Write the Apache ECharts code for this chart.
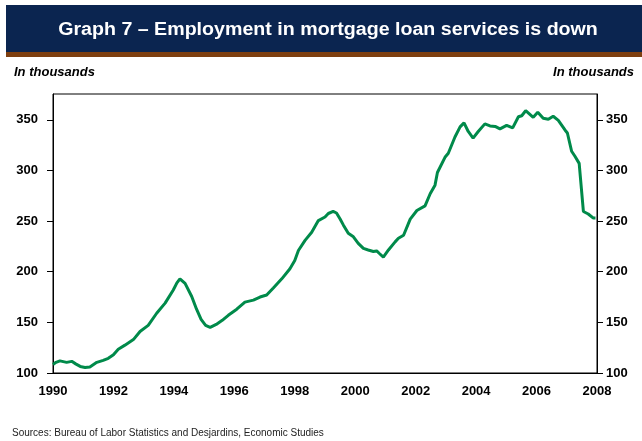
<!DOCTYPE html>
<html>
<head>
<meta charset="utf-8">
<script src="https://cdn.jsdelivr.net/npm/echarts@6/dist/echarts.min.js"></script>
<style>
html,body{margin:0;padding:0;background:#fff;}
#chart{width:642px;height:441px;}
</style>
</head>
<body>
<div id="chart"></div>
<script>
// Data (decimal year, thousands of employees)
var years = [1990.0,1990.1,1990.23,1990.45,1990.62,1990.75,1990.9,1991.06,1991.22,1991.45,1991.66,1991.83,1992.0,1992.16,1992.38,1992.66,1992.88,1993.15,1993.43,1993.71,1993.98,1994.1,1994.2,1994.37,1994.59,1994.75,1994.9,1995.05,1995.2,1995.4,1995.6,1995.8,1996.08,1996.35,1996.63,1996.85,1997.07,1997.29,1997.57,1997.84,1998.0,1998.12,1998.34,1998.56,1998.78,1999.0,1999.11,1999.27,1999.38,1999.5,1999.61,1999.77,1999.94,2000.1,2000.27,2000.43,2000.6,2000.71,2000.8,2000.93,2001.1,2001.32,2001.43,2001.6,2001.82,2002.04,2002.31,2002.48,2002.64,2002.72,2002.97,2003.08,2003.3,2003.47,2003.6,2003.74,2003.9,2004.07,2004.29,2004.46,2004.63,2004.79,2005.01,2005.21,2005.4,2005.51,2005.64,2005.89,2006.04,2006.22,2006.39,2006.55,2006.72,2006.94,2007.02,2007.16,2007.27,2007.41,2007.55,2007.71,2007.88,2007.95];
var employment = [108.5,110.5,112,110.5,111.5,109,106.5,105.5,106,110.5,112.5,114.5,118,123.5,127.5,133,141,147,159,169,182,189,193,188.5,175.5,163,153,147,145,148,152,157,163,170,172,175,177,184,193,203,211,221,231,239,250.5,254,257.5,259.5,258,252,246,238,234.5,228,223,221.5,220,220.5,218,214.5,221.5,229.5,233,236,252,260.5,265,277,285.5,298,313,317,333,343,347,338.5,332,338.5,346,344,343.5,341,344.5,342,353,354,359,352.5,357.5,351.5,350.5,353.5,349.5,340,337,319,314,307,259.5,257,253,253];
var yTicks = [100,150,200,250,300,350];
var xTickYears = [1990,1992,1994,1996,1998,2000,2002,2004,2006,2008];

var titleText = 'Graph 7 \u2013 Employment in mortgage loan services is down';
var unitText = 'In thousands';
var sourceText = 'Sources: Bureau of Labor Statistics and Desjardins, Economic Studies';

var chart = echarts.init(document.getElementById('chart'), null, {renderer:'canvas'});
var FONT = 'Liberation Sans, Arial, sans-serif';
var pairs = years.map(function(y,i){return [y, employment[i]];});

function yLabel(v){ return yTicks.indexOf(v) >= 0 ? String(v) : ''; }

function yAxisDef(pos, margin){
  return {
    type:'value', min:100, max:375.5, interval:50, position:pos,
    axisLine:{show:true, lineStyle:{color:'#000', width:1}},
    axisTick:{show:true, length:6, lineStyle:{color:'#000'}},
    splitLine:{show:false},
    axisLabel:{color:'#000', fontFamily:FONT, fontWeight:'bold', fontSize:13, margin:margin, formatter:yLabel, showMaxLabel:false}
  };
}

chart.setOption({
  animation:false,
  backgroundColor:'#fff',
  grid:{left:53, right:45, top:94, bottom:68, show:true, borderColor:'#000', borderWidth:1, backgroundColor:'transparent'},
  xAxis:{
    type:'value', min:1990, max:2008, interval:2,
    axisLine:{show:true, lineStyle:{color:'#000'}},
    axisTick:{show:false},
    splitLine:{show:false},
    axisLabel:{color:'#000', fontFamily:FONT, fontWeight:'bold', fontSize:13, margin:12,
      formatter:function(v){ return xTickYears.indexOf(v)>=0 ? String(v) : ''; }}
  },
  yAxis:[ yAxisDef('left', 15), yAxisDef('right', 9) ],
  series:[{
    type:'line', data:pairs, showSymbol:false, symbol:'none',
    lineStyle:{color:'#008a4a', width:3}, smooth:false, yAxisIndex:0
  }],
  graphic:[
    {type:'rect', shape:{x:6, y:5, width:636, height:47}, style:{fill:'#0b2550'}},
    {type:'rect', shape:{x:6, y:52, width:636, height:5}, style:{fill:'#7e3f10'}},
    {type:'text', x:328, y:30, scaleX:1.09, style:{text:titleText, fill:'#fff', font:'bold 18px ' + FONT, textAlign:'center', textVerticalAlign:'middle'}},
    {type:'text', x:14, y:72, style:{text:unitText, fill:'#000', font:'italic bold 13px ' + FONT, textAlign:'left', textVerticalAlign:'middle'}},
    {type:'text', x:634, y:72, style:{text:unitText, fill:'#000', font:'italic bold 13px ' + FONT, textAlign:'right', textVerticalAlign:'middle'}},
    {type:'text', x:12, y:433, style:{text:sourceText, fill:'#222', font:'10px ' + FONT, textAlign:'left', textVerticalAlign:'middle'}}
  ]
});
</script>
</body>
</html>
